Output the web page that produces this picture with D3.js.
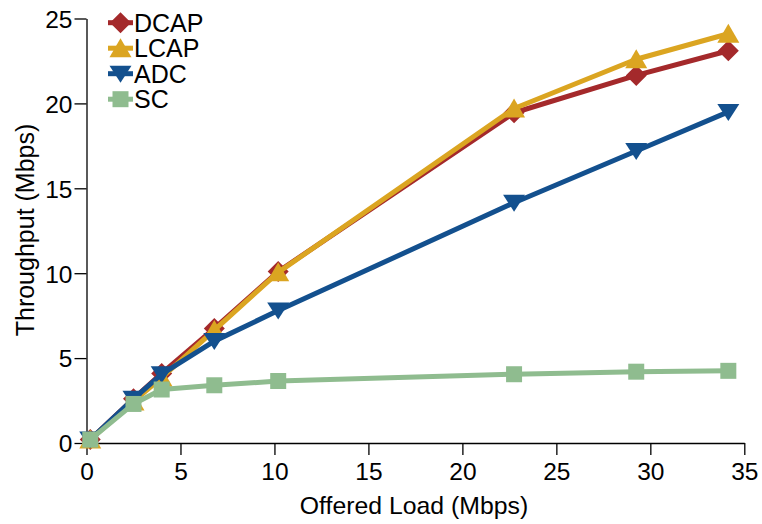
<!DOCTYPE html>
<html>
<head>
<meta charset="utf-8">
<script src="https://cdn.jsdelivr.net/npm/d3@7"></script>
<style>
  html, body { margin: 0; padding: 0; background: #fff; }
  svg { display: block; font-family: "Liberation Sans", Arial, Helvetica, sans-serif; }
</style>
</head>
<body>
<svg id="chart" width="762" height="524"></svg>
<script>
// Offered load (Mbps) at each measurement point
const offeredLoad = [0.2, 2.5, 4.0, 6.8, 10.2, 22.75, 29.25, 34.15];

// Measured throughput (Mbps) per scheme
const dcap = [0.2, 2.6, 4.1, 6.75, 10.1, 19.45, 21.65, 23.1];
const lcap = [0.2, 2.45, 3.85, 6.65, 10.05, 19.7, 22.6, 24.1];
const adc  = [0.2, 2.6, 4.05, 6.0, 7.8, 14.15, 17.2, 19.5];
const sc   = [0.2, 2.3, 3.15, 3.4, 3.65, 4.05, 4.2, 4.25];

const seriesNames = ["DCAP", "LCAP", "ADC", "SC"];
const seriesColors = ["#a4292b", "#dba521", "#13508e", "#8fbc8f"];
const seriesMarkers = ["diamond", "triangleUp", "triangleDown", "square"];
const seriesValues = [dcap, lcap, adc, sc];

const xTicks = [0, 5, 10, 15, 20, 25, 30, 35];
const yTicks = [0, 5, 10, 15, 20, 25];

const svg = d3.select("#chart");

const x = d3.scaleLinear().domain([0, 35]).range([86.5, 744.3]);
const y = d3.scaleLinear().domain([0, 25]).range([443, 18.5]);

// Marker outlines centred on (0,0)
function markerPath(kind) {
  switch (kind) {
    case "diamond": return "M0,-10.5L10.5,0L0,10.5L-10.5,0Z";
    case "triangleUp": return "M0,-10L11,9L-11,9Z";
    case "triangleDown": return "M0,9L11,-8L-11,-8Z";
    case "square": return "M-8,-8H8V8H-8Z";
  }
}

// Axes
const xAxis = d3.axisBottom(x).tickValues(xTicks).tickFormat(d3.format("d"))
  .tickSizeInner(12).tickSizeOuter(0).tickPadding(8);
const yAxis = d3.axisLeft(y).tickValues(yTicks).tickFormat(d3.format("d"))
  .tickSizeInner(12).tickSizeOuter(0).tickPadding(2);

const gx = svg.append("g").attr("transform", `translate(0,${y(0)})`).call(xAxis);
const gy = svg.append("g").attr("transform", `translate(${x(0)},0)`).call(yAxis);

[gx, gy].forEach(g => {
  g.selectAll(".domain").attr("stroke", "#000").attr("stroke-width", 1.3);
  g.selectAll(".tick line").attr("stroke", "#000").attr("stroke-width", 1.3);
  g.selectAll(".tick text").attr("fill", "#000").style("font-size", "24.5px")
    .style("font-family", "Liberation Sans, Arial, sans-serif");
});
gy.selectAll(".tick text").attr("dy", "0.36em");

// Axis titles
svg.append("text")
  .attr("x", 414).attr("y", 514)
  .attr("text-anchor", "middle")
  .style("font-size", "24.8px")
  .text("Offered Load (Mbps)");

svg.append("text")
  .attr("transform", "translate(34,230) rotate(-90)")
  .attr("text-anchor", "middle")
  .style("font-size", "25px")
  .text("Throughput (Mbps)");

// Series: line first, then markers, in legend order
const line = d3.line().x((d, i) => x(offeredLoad[i])).y(d => y(d));

seriesValues.forEach((vals, s) => {
  const g = svg.append("g");
  g.append("path")
    .datum(vals)
    .attr("d", line)
    .attr("fill", "none")
    .attr("stroke", seriesColors[s])
    .attr("stroke-width", 5)
    .attr("stroke-linejoin", "round");
  g.selectAll("path.marker")
    .data(vals)
    .join("path")
    .attr("class", "marker")
    .attr("transform", (d, i) => `translate(${x(offeredLoad[i])},${y(d)})`)
    .attr("d", markerPath(seriesMarkers[s]))
    .attr("fill", seriesColors[s]);
});

// Legend
const legend = svg.append("g").attr("transform", "translate(108,22.7)");
seriesNames.forEach((name, s) => {
  const row = legend.append("g").attr("transform", `translate(0,${s * 25.5})`);
  row.append("line")
    .attr("x1", 0).attr("x2", 25).attr("y1", 0).attr("y2", 0)
    .attr("stroke", seriesColors[s]).attr("stroke-width", 5);
  row.append("path")
    .attr("transform", "translate(12.5,0)")
    .attr("d", markerPath(seriesMarkers[s]))
    .attr("fill", seriesColors[s]);
  row.append("text")
    .attr("x", 26).attr("y", 9)
    .style("font-size", "25px")
    .attr("fill", "#000")
    .text(name);
});
</script>
</body>
</html>
